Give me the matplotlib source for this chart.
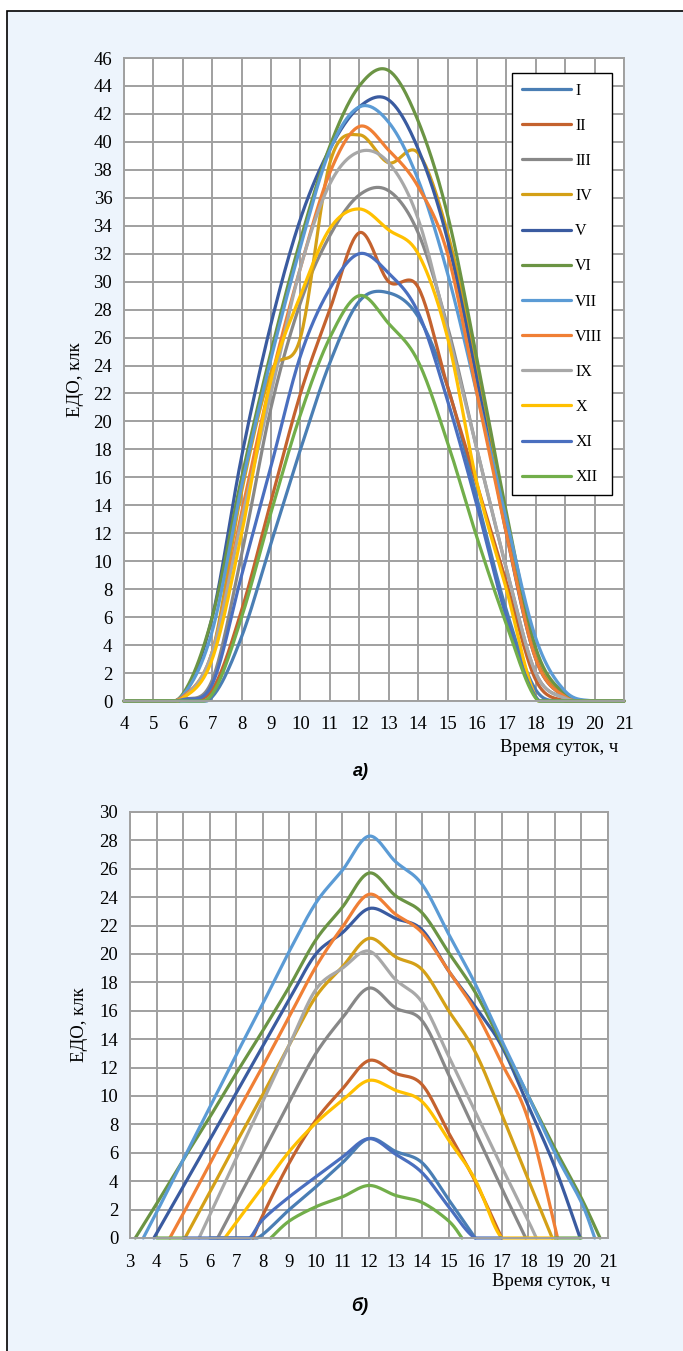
import matplotlib.pyplot as plt
import numpy as np
from matplotlib.patches import Rectangle

plt.rcParams['font.family'] = ['Liberation Serif', 'DejaVu Serif']

months = ['I', 'II', 'III', 'IV', 'V', 'VI', 'VII', 'VIII', 'IX', 'X', 'XI', 'XII']
colors = ['#4A7EB4', '#C4622E', '#888888', '#D4A017', '#3A5BA0', '#6B9444',
          '#5B9BD5', '#F07F35', '#A8A8A8', '#FFC000', '#4A6FBF', '#72AE4A']

# chart a) - hourly values, 4..21 h
hours_a = list(range(4, 22))
a_I    = [0, 0, 0,   0.3, 4.6, 11.3, 18,   24.2, 28.6, 29.2, 27.5, 22.5, 14.5, 6.5,  0.8, 0,   0, 0]
a_II   = [0, 0, 0.1, 0.8, 6.5, 14.3, 22,   28,   33.5, 30,   29.6, 22.5, 15.5, 8.5,  1.5, 0,   0, 0]
a_III  = [0, 0, 0.1, 1.5, 10.5, 21,  28.5, 33.3, 36.2, 36.5, 33.5, 26.8, 18,   9.5,  2,   0.2, 0, 0]
a_IV   = [0, 0, 0.3, 3.5, 15,   23.5, 26,  38.5, 40.5, 38.5, 39.2, 33.5, 24,   13,   3.5, 0.3, 0, 0]
a_V    = [0, 0, 0.3, 6,   17.5, 27,  34.5, 39.5, 42.5, 43,   39.5, 33,   23,   12,   3,   0.3, 0, 0]
a_VI   = [0, 0, 0.5, 6,   16,   25,  33,   39.7, 44,   45.1, 41.5, 34.8, 24.5, 13.5, 3.8, 0.5, 0, 0]
a_VII  = [0, 0, 0.4, 5,   15.4, 24.5, 32.5, 39.4, 42.5, 41.4, 37.3, 30.6, 22,  13,   4.5, 0.7, 0, 0]
a_VIII = [0, 0, 0.3, 3.5, 13.5, 23,  31,   37.8, 41.1, 39.4, 36.8, 32,   22,   12,   3,   0.3, 0, 0]
a_IX   = [0, 0, 0.2, 3.5, 13,   22,  31,   37,   39.3, 38.5, 34.5, 26.5, 18,   9.5,  2,   0.2, 0, 0]
a_X    = [0, 0, 0.2, 3,   12,   23,  29,   33.8, 35.2, 33.7, 32,   26,   15.6, 8,    0.3, 0,   0, 0]
a_XI   = [0, 0, 0.1, 1.2, 9,    16.8, 24.7, 29.5, 32,  30.6, 27.8, 21.5, 14,   6,    0.3, 0,   0, 0]
a_XII  = [0, 0, 0,   0.5, 6,    13.5, 20.5, 26,   29,   27,   24.3, 18.5, 11.7, 5.5,  0.2, 0,   0, 0]

# chart b) - (hour, value) pairs, nan breaks a line
b_I_x = [6, 7, 7.8, 9, 10, 11, 12, 13, 14, 15, 16]
b_I_y = [0, 0, 0, 2.0, 3.6, 5.3, 7.0, 6.1, 5.3, 2.7, 0]
b_II_x = [7.63, 8, 9, 10, 11, 12, 13, 14, 15, 16, 17]
b_II_y = [0, 1.6, 5.3, 8.3, 10.5, 12.5, 11.6, 10.8, 7.4, 4.0, 0]
b_III_x = [6.3, 7, 8, 9, 10, 11, 12, 13, 14, 15, 16, 17, 17.9]
b_III_y = [0, 2.5, 6, 9.6, 13, 15.5, 17.6, 16.2, 15.3, 11.5, 7.5, 3.5, 0]
b_IV_x = [5.07, 6, 7, 8, 9, 10, 11, 12, 13, 14, 15, 16, 17, 18, 18.9]
b_IV_y = [0, 3.2, 6.7, 10.1, 13.6, 17, 19.1, 21.1, 19.8, 18.9, 16, 13.1, 8.7, 4.1, 0]
b_V_x = [3.9, 5, 6, 7, 8, 9, 10, 11, 12, 13, 14, 15, 16, 17, 18, 19, 19.95]
b_V_y = [0, 3.6, 6.9, 10.2, 13.5, 16.8, 20, 21.5, 23.2, 22.5, 21.7, 18.8, 16.3, 13.5, 9.3, 5, 0]
b_VI_x = [3.2, 4, 5, 6, 7, 8, 9, 10, 11, 12, 13, 14, 15, 16, 17, 18, 19, 20, 20.7]
b_VI_y = [0, 2.4, 5.5, 8.5, 11.6, 14.6, 17.7, 21, 23.3, 25.7, 24.1, 22.9, 20.1, 17.3, 13.7, 10, 6.3, 2.8, 0]
b_VII_x = [3.5, 4, 5, 6, 7, 8, 9, 10, 11, 12, 13, 14, 15, 16, 17, 18, 19, 20, 20.5]
b_VII_y = [0, 1.8, 5.5, 9.2, 12.9, 16.5, 20.2, 23.6, 25.9, 28.3, 26.5, 24.9, 21.4, 17.9, 13.9, 10, 6, 2.5, 0]
b_VIII_x = [4.5, 5, 6, 7, 8, 9, 10, 11, 12, 13, 14, 15, 16, 17, 18, 19.1]
b_VIII_y = [0, 1.7, 5.2, 8.7, 12.1, 15.6, 19.1, 21.9, 24.2, 22.8, 21.5, 18.8, 16.0, 12.3, 8.3, 0]
b_IX_x = [5.6, 6, 7, 8, 9, 10, 11, 12, 13, 14, 15, 16, 17, 18, 18.3]
b_IX_y = [0, 1.6, 5.6, 9.6, 13.6, 17.5, 19.0, 20.2, 18.2, 16.6, 12.8, 8.9, 5.0, 1.2, 0]
b_X_x = [6.57, 7, 8, 9, 10, 11, 12, 13, 14, 15, 16, 17, 18, 19]
b_X_y = [0, 1.1, 3.6, 6.1, 8.1, 9.7, 11.1, 10.4, 9.6, 6.9, 4.1, 0, 0, 0]
b_XI_x = [5, 6, 7, 7.5, 8, 9, 10, 11, 12, 13, 14, 15, 16, 17]
b_XI_y = [0, 0, 0, 0, 1.3, 2.9, 4.3, 5.7, 7.0, 5.9, 4.6, 2.2, 0, 0]
b_XII_x = [4, 5, np.nan, 8.3, 9, 10, 11, 12, 13, 14, 15, 15.5, np.nan, 19, 20]
b_XII_y = [0, 0, np.nan, 0, 1.2, 2.2, 2.9, 3.7, 3.0, 2.5, 1.2, 0, np.nan, 0, 0]

series_a = [a_I, a_II, a_III, a_IV, a_V, a_VI, a_VII, a_VIII, a_IX, a_X, a_XI, a_XII]
series_b = [(b_I_x, b_I_y), (b_II_x, b_II_y), (b_III_x, b_III_y), (b_IV_x, b_IV_y),
            (b_V_x, b_V_y), (b_VI_x, b_VI_y), (b_VII_x, b_VII_y), (b_VIII_x, b_VIII_y),
            (b_IX_x, b_IX_y), (b_X_x, b_X_y), (b_XI_x, b_XI_y), (b_XII_x, b_XII_y)]


def smooth(xs, ys, steps=25):
    # bezier smoothing like excel's "smoothed line"
    xs = np.asarray(xs, float)
    ys = np.asarray(ys, float)
    cut = np.where(np.isnan(xs))[0]
    out_x, out_y = [], []
    for px, py in zip(np.split(xs, cut), np.split(ys, cut)):
        ok = ~np.isnan(px)
        px, py = px[ok], py[ok]
        if len(px) < 2:
            continue
        P = np.column_stack([px, py])
        P = np.vstack([P[0], P, P[-1]])
        t = np.linspace(0, 1, steps)[:, None]
        for i in range(1, len(P) - 2):
            p0, p1, p2, p3 = P[i - 1], P[i], P[i + 1], P[i + 2]
            c1 = p1 + (p2 - p0) / 6
            c2 = p2 - (p3 - p1) / 6
            seg = (1 - t)**3 * p1 + 3 * (1 - t)**2 * t * c1 + 3 * (1 - t) * t**2 * c2 + t**3 * p2
            out_x.extend(seg[:, 0])
            out_y.extend(seg[:, 1])
        out_x.append(np.nan)
        out_y.append(np.nan)
    return np.array(out_x), np.maximum(np.array(out_y), 0)


W, H = 683, 1351
fig = plt.figure(figsize=(W / 100, H / 100), dpi=100)
fig.patch.set_facecolor('white')
fig.add_artist(Rectangle((6.5 / W, -0.01), 1.02, 1 - 11 / H + 0.01, transform=fig.transFigure,
                         facecolor='#EDF4FC', edgecolor='black', lw=1.2, zorder=0))


def style(ax, xt, yt, xpad):
    ax.set_facecolor('white')
    ax.set_xticks(xt)
    ax.set_yticks(yt)
    ax.grid(True, color='#A0A0A0', lw=1.4)
    ax.set_axisbelow(True)
    for s in ax.spines.values():
        s.set_color('#A0A0A0')
        s.set_linewidth(1.4)
    ax.tick_params(length=0, labelsize=13.5)
    ax.tick_params(axis='y', pad=8.5)
    ax.tick_params(axis='x', pad=xpad)


# --- a)
ax_a = fig.add_axes([124 / W, 1 - 701 / H, 500 / W, 643 / H])
ax_a.set_xlim(4, 21)
ax_a.set_ylim(0, 46)
style(ax_a, range(4, 22), range(0, 47, 2), 10.5)
for name, vals, c in zip(months, series_a, colors):
    sx, sy = smooth(hours_a, vals)
    ax_a.plot(sx, sy, color=c, lw=2.3, label=name, clip_on=False, solid_capstyle='round')

leg = ax_a.legend(loc='upper right', bbox_to_anchor=(612 / W, 1 - 73 / H),
                  bbox_transform=fig.transFigure, borderaxespad=0, fontsize=11.5,
                  labelspacing=1.2, handlelength=3.1, handletextpad=0.25,
                  borderpad=0.6, fancybox=False, framealpha=1)
leg.get_frame().set_edgecolor('black')
leg.get_frame().set_linewidth(1.0)

fig.text(618 / W, 1 - 747 / H, 'Время суток, ч', ha='right', va='center', fontsize=13.5)
fig.text(75 / W, 1 - 380 / H, 'ЕДО, клк', rotation=90, ha='center', va='center', fontsize=13.5)
fig.text(361 / W, 1 - 771 / H, 'а)', ha='center', va='center', fontsize=13,
         fontweight='bold', fontstyle='italic', family=['Liberation Sans', 'DejaVu Sans'])

# --- б)
ax_b = fig.add_axes([130 / W, 1 - 1238 / H, 478 / W, 426 / H])
ax_b.set_xlim(3, 21)
ax_b.set_ylim(0, 30)
style(ax_b, range(3, 22), range(0, 31, 2), 11.5)
for name, (bx, by), c in zip(months, series_b, colors):
    sx, sy = smooth(bx, by)
    ax_b.plot(sx, sy, color=c, lw=2.3, clip_on=False, solid_capstyle='round')

fig.text(610 / W, 1 - 1281 / H, 'Время суток, ч', ha='right', va='center', fontsize=13.5)
fig.text(80 / W, 1 - 1025 / H, 'ЕДО, клк', rotation=90, ha='center', va='center', fontsize=13.5)
fig.text(360 / W, 1 - 1306 / H, 'б)', ha='center', va='center', fontsize=13,
         fontweight='bold', fontstyle='italic', family=['Liberation Sans', 'DejaVu Sans'])

fig.savefig('out.png', dpi=100)
